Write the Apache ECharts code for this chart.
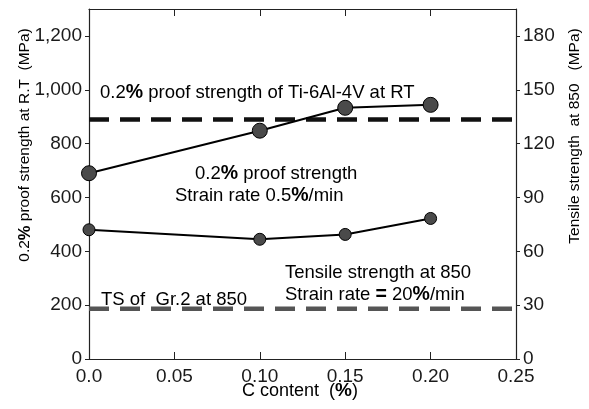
<!DOCTYPE html>
<html>
<head>
<meta charset="utf-8">
<script src="https://cdn.jsdelivr.net/npm/echarts@6/dist/echarts.min.js"></script>
<style>html,body{margin:0;padding:0;background:#fff}#c{width:589px;height:409px}</style>
</head>
<body>
<div id="c"></div>
<script>
var carbon = [0.0, 0.10, 0.15, 0.20];
var proofStrength = [690, 848, 933, 944];          // left axis, MPa
var tensileStrength = [72, 66.7, 69.4, 78.3];      // right axis, MPa
var refProofTi64 = 890;                            // left axis
var refTSGr2 = 28;                                 // right axis
var xTickLabels = ['0.0', '0.05', '0.10', '0.15', '0.20', '0.25'];
var leftTicks = [0, 200, 400, 600, 800, 1000, 1200];
var leftTickLabels = ['0', '200', '400', '600', '800', '1,000', '1,200'];
var rightTicks = [0, 30, 60, 90, 120, 150, 180];
var rightTickLabels = ['0', '30', '60', '90', '120', '150', '180'];

var FONT = 'Liberation Sans, Arial, sans-serif';
var TXT = '#1a1a1a';
function mkRich(sz) {
  return {
    n: {fontFamily: FONT, fontSize: sz, color: TXT},
    b: {fontFamily: FONT, fontSize: sz + 1, fontWeight: 'bold', color: TXT}
  };
}
var rich = mkRich(18.5);
var richName = mkRich(15.5);
var richX = mkRich(18);

var chart = echarts.init(document.getElementById('c'), null, {renderer: 'canvas'});
var xMin = 0, xMax = 0.25;
var axisLineStyle = {color: '#222', width: 1.2};

function annot(x, y, text) {
  return {type: 'text', left: x, top: y, style: {text: text, rich: rich, textVerticalAlign: 'middle'}};
}

chart.setOption({
  animation: false,
  grid: {left: 89, right: 73, top: 9, bottom: 50},
  xAxis: [{
    type: 'value', min: xMin, max: xMax, interval: 0.05, position: 'bottom',
    axisLine: {show: true, onZero: false, lineStyle: axisLineStyle},
    axisTick: {show: true, inside: true, length: 7, lineStyle: {color: '#222'}},
    axisLabel: {margin: 8, fontFamily: FONT, fontSize: 19, color: TXT,
      formatter: function (v) { return xTickLabels[Math.round(v / 0.05)]; }},
    splitLine: {show: false}
  }, {
    type: 'value', min: xMin, max: xMax, interval: 0.05, position: 'top',
    axisLine: {show: true, onZero: false, lineStyle: axisLineStyle},
    axisTick: {show: true, inside: true, length: 7, lineStyle: {color: '#222'}},
    axisLabel: {show: false}, splitLine: {show: false}
  }],
  yAxis: [{
    type: 'value', min: 0, max: 1300, position: 'left',
    axisLine: {show: true, onZero: false, lineStyle: axisLineStyle},
    axisTick: {show: true, inside: false, length: 4, customValues: leftTicks, lineStyle: {color: '#222'}},
    axisLabel: {margin: 7, fontFamily: FONT, fontSize: 19, color: TXT, customValues: leftTicks,
      formatter: function (v) { return leftTickLabels[leftTicks.indexOf(v)]; }},
    splitLine: {show: false}
  }, {
    type: 'value', min: 0, max: 195, position: 'right',
    axisLine: {show: true, onZero: false, lineStyle: axisLineStyle},
    axisTick: {show: true, inside: false, length: 4, customValues: rightTicks, lineStyle: {color: '#222'}},
    axisLabel: {margin: 7, fontFamily: FONT, fontSize: 19, color: TXT, customValues: rightTicks,
      formatter: function (v) { return rightTickLabels[rightTicks.indexOf(v)]; }},
    splitLine: {show: false}
  }],
  series: [{
    type: 'line', xAxisIndex: 0, yAxisIndex: 0, symbol: 'none', silent: true,
    data: [[xMin, refProofTi64], [xMax, refProofTi64]],
    lineStyle: {color: '#111', width: 4.5, type: [20, 11]}
  }, {
    type: 'line', xAxisIndex: 0, yAxisIndex: 1, symbol: 'none', silent: true,
    data: [[xMin, refTSGr2], [xMax, refTSGr2]],
    lineStyle: {color: '#555', width: 4.5, type: [20, 11]}
  }, {
    type: 'line', xAxisIndex: 0, yAxisIndex: 0,
    data: carbon.map(function (c, i) { return [c, proofStrength[i]]; }),
    symbol: 'circle', symbolSize: 15,
    lineStyle: {color: '#000', width: 2},
    itemStyle: {color: '#4a4a4a', borderColor: '#000', borderWidth: 1}
  }, {
    type: 'line', xAxisIndex: 0, yAxisIndex: 1,
    data: carbon.map(function (c, i) { return [c, tensileStrength[i]]; }),
    symbol: 'circle', symbolSize: 12,
    lineStyle: {color: '#000', width: 2},
    itemStyle: {color: '#4a4a4a', borderColor: '#000', borderWidth: 1}
  }],
  graphic: [
    annot(100, 83, '{n|0.2}{b|%}{n| proof strength of Ti-6Al-4V at RT}'),
    annot(195, 164, '{n|0.2}{b|%}{n| proof strength}'),
    annot(175, 186, '{n|Strain rate 0.5}{b|%}{n|/min}'),
    annot(285, 263, '{n|Tensile strength at 850}'),
    annot(285, 285, '{n|Strain rate }{b|=}{n| 20}{b|%}{n|/min}'),
    annot(101, 290, '{n|TS of  Gr.2 at 850}'),
    {type: 'text', x: 25, y: 145, rotation: Math.PI / 2,
      style: {text: '{n|0.2}{b|%}{n| proof strength at R.T  (MPa)}', rich: richName, textAlign: 'center', textVerticalAlign: 'middle'}},
    {type: 'text', x: 575, y: 136, rotation: Math.PI / 2,
      style: {text: '{n|Tensile strength  at 850   (MPa)}', rich: richName, textAlign: 'center', textVerticalAlign: 'middle'}},
    {type: 'text', x: 300, y: 391,
      style: {text: '{n|C content  (}{b|%}{n|)}', rich: richX, textAlign: 'center', textVerticalAlign: 'middle'}}
  ]
});
</script>
</body>
</html>
